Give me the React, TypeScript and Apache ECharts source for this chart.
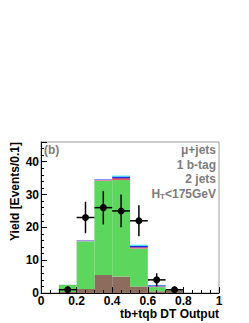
import React, { useEffect, useRef } from "react";
import * as echarts from "echarts";

const binLabels = ["0.0-0.1", "0.1-0.2", "0.2-0.3", "0.3-0.4", "0.4-0.5", "0.5-0.6", "0.6-0.7", "0.7-0.8", "0.8-0.9", "0.9-1.0"];
const brownVals = [0, 0.3, 1.2, 5.5, 5.0, 2.0, 0.5, 0.8, 0, 0];
const greenVals = [0, 2.2, 14.6, 28.6, 29.4, 11.5, 1.3, 0.1, 0, 0];
const pinkVals = [0, 0.05, 0.25, 0.25, 0.1, 0.1, 0.15, 0, 0, 0];
const redVals = [0, 0, 0.05, 0.1, 0.45, 0.3, 0.1, 0, 0, 0];
const blueVals = [0, 0, 0.05, 0.1, 0.5, 0.5, 0.3, 0, 0, 0];
const cyanVals = [0, 0, 0, 0.05, 0.3, 0.3, 0.1, 0, 0, 0];

const dataX = [0.15, 0.25, 0.35, 0.45, 0.55, 0.65, 0.75];
const dataY = [1, 23, 26, 25, 22, 4, 1];
const dataErr = [1, 4.8, 5.1, 5.0, 4.7, 2.0, 1.0];
const halfBin = 0.05;

const infoLines = ["μ+jets", "1 b-tag", "2 jets"];

export default function App() {
  const ref = useRef<HTMLDivElement>(null);
  useEffect(() => {
    if (!ref.current) return;
    const chart = echarts.init(ref.current, null, { renderer: "svg" });
    const font = "Liberation Sans, Arial, Helvetica, sans-serif";
    const gray = "#7c7c7c";
    const barLayer = (name: string, data: number[], color: string) => ({
      name,
      type: "bar",
      xAxisIndex: 1,
      yAxisIndex: 0,
      stack: "bg",
      barWidth: "100%",
      barCategoryGap: "0%",
      data,
      itemStyle: { color },
      silent: true,
    });
    chart.setOption({
      animation: false,
      grid: {
        left: 41,
        right: 30,
        top: 142,
        bottom: 30,
        show: true,
        borderColor: "#9a9a9a",
        borderWidth: 1,
        backgroundColor: "transparent",
      },
      xAxis: [
        {
          type: "value",
          min: 0,
          max: 1,
          interval: 0.2,
          axisLine: { show: true, lineStyle: { color: "#000", width: 1 } },
          axisTick: { show: true, inside: true, length: 6, lineStyle: { color: "#000" } },
          minorTick: { show: true, splitNumber: 4, length: 3, lineStyle: { color: "#000" } },
          splitLine: { show: false },
          axisLabel: {
            color: "#000",
            fontFamily: font,
            fontWeight: "bold",
            fontSize: 12,
            margin: 2,
          },
          z: 10,
        },
        {
          type: "category",
          data: binLabels,
          show: false,
          boundaryGap: true,
        },
      ],
      yAxis: [
        {
          type: "value",
          min: 0,
          max: 46,
          interval: 10,
          axisLine: { show: true, lineStyle: { color: "#000", width: 1 } },
          axisTick: { show: true, inside: true, length: 6, lineStyle: { color: "#000" } },
          minorTick: { show: true, splitNumber: 5, length: 3, lineStyle: { color: "#000" } },
          splitLine: { show: false },
          axisLabel: {
            color: "#000",
            fontFamily: font,
            fontWeight: "bold",
            fontSize: 12,
            margin: 2,
            showMaxLabel: false,
          },
          z: 10,
        },
      ],
      series: [
        barLayer("brown", brownVals, "#8c6c5c"),
        barLayer("green", greenVals, "#5cd65c"),
        barLayer("pink", pinkVals, "#c8a0e0"),
        barLayer("red", redVals, "#e8202a"),
        barLayer("blue", blueVals, "#1a2ee8"),
        barLayer("cyan", cyanVals, "#30d8f8"),
        {
          name: "data",
          type: "custom",
          xAxisIndex: 0,
          yAxisIndex: 0,
          encode: { x: 0, y: 1 },
          data: dataX.map((x, i) => [x, dataY[i], dataErr[i]]),
          z: 20,
          renderItem: (params: any, api: any) => {
            const x = api.value(0);
            const y = api.value(1);
            const e = api.value(2);
            const c = api.coord([x, y]);
            const top = api.coord([x, y + e]);
            const bot = api.coord([x, Math.max(0, y - e)]);
            const l = api.coord([x - halfBin, y]);
            const r = api.coord([x + halfBin, y]);
            const st = { stroke: "#000", lineWidth: 1.5 };
            return {
              type: "group",
              children: [
                { type: "line", shape: { x1: c[0], y1: top[1], x2: c[0], y2: bot[1] }, style: st },
                { type: "line", shape: { x1: l[0], y1: c[1], x2: r[0], y2: c[1] }, style: st },
                { type: "circle", shape: { cx: c[0], cy: c[1], r: 3.5 }, style: { fill: "#000" } },
              ],
            };
          },
        },
      ],
      graphic: [
        {
          type: "text",
          x: 15,
          y: 142,
          rotation: Math.PI / 2,
          style: {
            text: "Yield [Events/0.1]",
            font: `bold 12px ${font}`,
            fill: "#000",
            align: "right",
            verticalAlign: "middle",
          },
        },
        {
          type: "text",
          x: 219,
          y: 314,
          style: {
            text: "tb+tqb DT Output",
            font: `bold 12px ${font}`,
            fill: "#000",
            align: "right",
            verticalAlign: "middle",
          },
        },
        {
          type: "text",
          x: 44,
          y: 150,
          style: {
            text: "(b)",
            font: `bold 12px ${font}`,
            fill: gray,
            align: "left",
            verticalAlign: "middle",
          },
        },
        ...infoLines.map((t, i) => ({
          type: "text",
          x: 216,
          y: 150 + i * 14.5,
          style: {
            text: t,
            font: `bold 12px ${font}`,
            fill: gray,
            align: "right",
            verticalAlign: "middle",
          },
        })),
        {
          type: "text",
          x: 216,
          y: 193.5,
          style: {
            text: "{a|H}{s|T}{a|<175GeV}",
            align: "right",
            verticalAlign: "middle",
            rich: {
              a: { font: `bold 12px ${font}`, fill: gray, color: gray },
              s: { font: `bold 8px ${font}`, fill: gray, color: gray, verticalAlign: "bottom", padding: [6, 0, 0, 0] },
            },
          },
        },
      ],
    });
    return () => chart.dispose();
  }, []);
  return (
    <div
      ref={ref}
      style={{ position: "fixed", left: 0, top: 0, width: 249, height: 323, background: "#fff" }}
    />
  );
}
